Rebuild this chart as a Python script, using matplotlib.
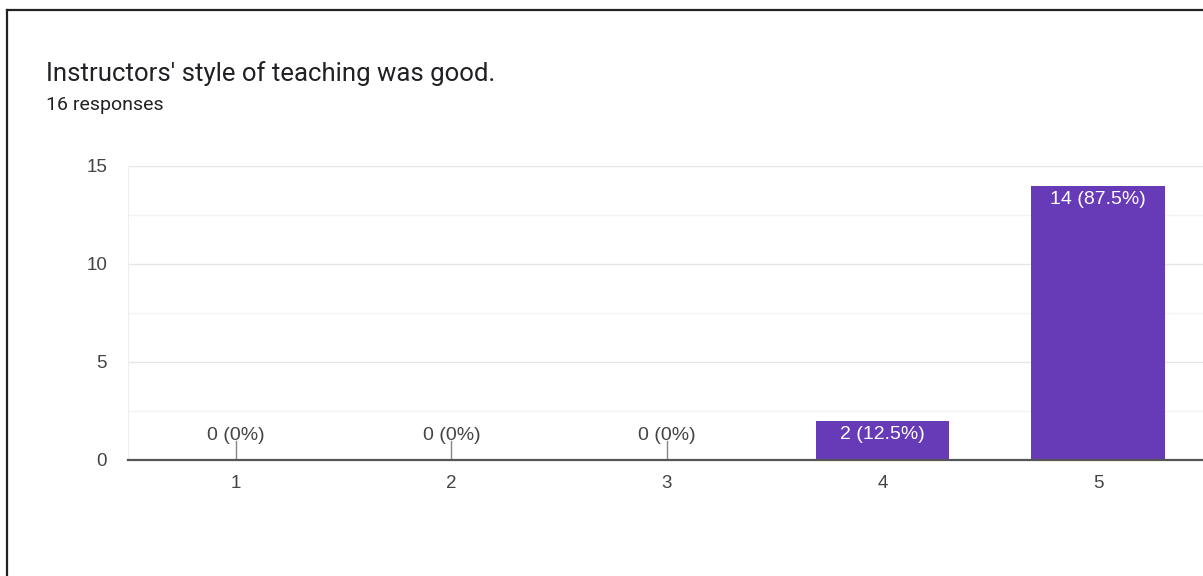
import matplotlib
matplotlib.use("Agg")
import matplotlib.pyplot as plt
from matplotlib.lines import Line2D
import numpy as np

# survey results
categories = ["1", "2", "3", "4", "5"]
counts = [0, 0, 0, 2, 14]
total = 16
title = "Instructors' style of teaching was good."
subtitle = "16 responses"

bar_color = "#673ab7"
text_gray = "#444444"

fig = plt.figure(figsize=(12.03, 5.76), dpi=100)
ax = fig.add_axes([128 / 1203, 116 / 576, 1078 / 1203, 294 / 576])

x = np.arange(1, len(categories) + 1)
ax.bar(x, counts, width=0.62, color=bar_color, zorder=3)

ax.set_xlim(0.5, 5.5)
ax.set_ylim(0, 15)
ax.set_yticks([0, 5, 10, 15])
ax.set_yticks([2.5, 7.5, 12.5], minor=True)
ax.set_xticks(x)
ax.set_xticklabels(categories)

ax.grid(axis="y", which="major", color="#e6e6e6", linewidth=1, zorder=0)
ax.grid(axis="y", which="minor", color="#f3f3f3", linewidth=1, zorder=0)

for s in ["top", "right"]:
    ax.spines[s].set_visible(False)
ax.spines["left"].set_color("#eeeeee")
ax.spines["bottom"].set_color("#555555")
ax.spines["bottom"].set_linewidth(1.6)
ax.spines["bottom"].set_zorder(4)

ax.tick_params(axis="both", which="both", length=0, labelsize=13.5, labelcolor=text_gray)
ax.tick_params(axis="y", pad=15)
ax.tick_params(axis="x", pad=11)
for lab in ax.get_xticklabels() + ax.get_yticklabels():
    lab.set_fontfamily("Liberation Sans")

# value labels
for xi, c in zip(x, counts):
    pct = c / total * 100
    label = "%d (%s%%)" % (c, ("%g" % pct))
    if c > 0:
        ax.annotate(label, (xi, c), xytext=(0, -4), textcoords="offset points",
                    ha="center", va="top", color="white",
                    fontsize=14, family="Liberation Sans", zorder=5)
    else:
        ax.plot([xi, xi], [0, 0.97], color="#888888", linewidth=1, zorder=4)
        ax.annotate(label, (xi, 0), xytext=(0, 14.6), textcoords="offset points",
                    ha="center", va="baseline", color=text_gray,
                    fontsize=14, family="Liberation Sans", zorder=5)

fig.text(46 / 1203, 1 - 81 / 576, title, fontsize=18.5, color="#202124",
         family="Roboto", va="baseline", ha="left")
fig.text(46 / 1203, 1 - 110 / 576, subtitle, fontsize=14, color="#202124",
         family="Roboto", va="baseline", ha="left")

# outer frame (top and left only visible)
fig.add_artist(Line2D([7 / 1203, 1], [1 - 10 / 576, 1 - 10 / 576],
                      color="#222222", linewidth=1.6, transform=fig.transFigure))
fig.add_artist(Line2D([7 / 1203, 7 / 1203], [0, 1 - 10 / 576],
                      color="#222222", linewidth=1.6, transform=fig.transFigure))

fig.savefig("out.png", dpi=100)
